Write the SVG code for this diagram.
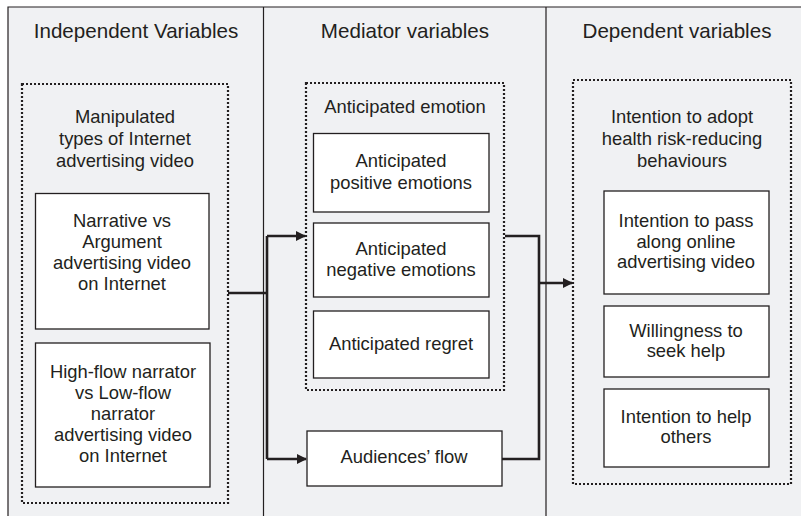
<svg xmlns="http://www.w3.org/2000/svg" width="801" height="516" viewBox="0 0 801 516">
<defs>
<style>
.bg{fill:#f0f1f3}
.frame{fill:none;stroke:#231f20;stroke-width:1.2}
.dot{fill:none;stroke:#231f20;stroke-width:2.2;stroke-dasharray:2 2}
.box{fill:#fff;stroke:#231f20;stroke-width:1.3}
.t{font-family:"Liberation Sans",Arial,sans-serif;font-size:18.4px;fill:#231f20;text-anchor:middle}
.h{font-family:"Liberation Sans",Arial,sans-serif;font-size:20.6px;fill:#231f20;text-anchor:middle}
.c{fill:none;stroke:#231f20;stroke-width:2.6}
</style>
<marker id="arr" markerWidth="10" markerHeight="10" refX="9" refY="5" orient="auto" markerUnits="userSpaceOnUse">
<path d="M0,0 L10,5 L0,10 Z" fill="#231f20"/>
</marker>
</defs>
<rect class="bg" x="8" y="7" width="793" height="509"/>
<path class="frame" d="M8,516 V7 H801 M263.5,7 V516 M546,7 V516"/>
<g id="col-titles">
<text class="h" x="136" y="38">Independent Variables</text>
<text class="h" x="405" y="38">Mediator variables</text>
<text class="h" x="677" y="38">Dependent variables</text>
</g>
<g id="independent">
<rect class="dot" x="22" y="84" width="206" height="419"/>
<text class="t" x="125" y="123">Manipulated</text>
<text class="t" x="125" y="145">types of Internet</text>
<text class="t" x="125" y="167">advertising video</text>
</g>
<g id="narrative">
<rect class="box" x="35.5" y="193.5" width="173.5" height="135.5"/>
<text class="t" x="122" y="227">Narrative vs</text>
<text class="t" x="122" y="248">Argument</text>
<text class="t" x="122" y="269">advertising video</text>
<text class="t" x="122" y="290">on Internet</text>
</g>
<g id="highflow">
<rect class="box" x="35.5" y="343" width="174.5" height="144"/>
<text class="t" x="123" y="378">High-flow narrator</text>
<text class="t" x="123" y="399">vs Low-flow</text>
<text class="t" x="123" y="420">narrator</text>
<text class="t" x="123" y="441">advertising video</text>
<text class="t" x="123" y="462">on Internet</text>
</g>
<g id="emotion">
<rect class="dot" x="306" y="83" width="198" height="307"/>
<text class="t" x="405" y="113">Anticipated emotion</text>
</g>
<g id="positive">
<rect class="box" x="313.5" y="133.5" width="175.5" height="78.5"/>
<text class="t" x="401" y="167">Anticipated</text>
<text class="t" x="401" y="189">positive emotions</text>
</g>
<g id="negative">
<rect class="box" x="313.5" y="223" width="175.5" height="74"/>
<text class="t" x="401" y="255">Anticipated</text>
<text class="t" x="401" y="276">negative emotions</text>
</g>
<g id="regret">
<rect class="box" x="313.5" y="311" width="175.5" height="67"/>
<text class="t" x="401" y="350">Anticipated regret</text>
</g>
<g id="flow">
<rect class="box" x="307" y="431" width="195" height="55"/>
<text class="t" x="404" y="463">Audiences’ flow</text>
</g>
<g id="dependent">
<rect class="dot" x="573" y="80" width="218" height="404"/>
<text class="t" x="682" y="123">Intention to adopt</text>
<text class="t" x="682" y="145">health risk-reducing</text>
<text class="t" x="682" y="167">behaviours</text>
</g>
<g id="pass">
<rect class="box" x="604" y="191" width="165" height="103"/>
<text class="t" x="686" y="227">Intention to pass</text>
<text class="t" x="686" y="248">along online</text>
<text class="t" x="686" y="268">advertising video</text>
</g>
<g id="seek">
<rect class="box" x="604" y="306" width="165" height="71"/>
<text class="t" x="686" y="337">Willingness to</text>
<text class="t" x="686" y="357">seek help</text>
</g>
<g id="help">
<rect class="box" x="604" y="389" width="165" height="78"/>
<text class="t" x="686" y="423">Intention to help</text>
<text class="t" x="686" y="443">others</text>
</g>
<g id="connectors">
<path class="c" d="M228,293 H267"/>
<path class="c" d="M267,236 V459"/>
<path class="c" d="M267,236 H305" marker-end="url(#arr)"/>
<path class="c" d="M267,459 H306" marker-end="url(#arr)"/>
<path class="c" d="M505,236 H539 V459 H502"/>
<path class="c" d="M539,283 H572" marker-end="url(#arr)"/>
</g>
</svg>
